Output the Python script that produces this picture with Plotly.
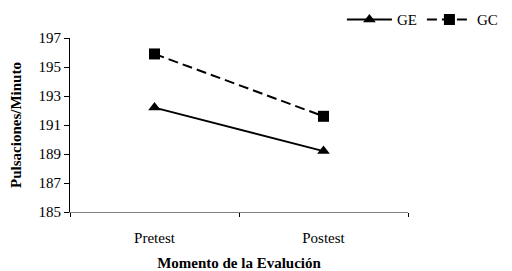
import plotly.graph_objects as go

categories = ["Pretest", "Postest"]
ge_values = [192.2, 189.2]
gc_values = [195.9, 191.6]
y_ticks = [185, 187, 189, 191, 193, 195, 197]

fig = go.Figure()
fig.add_trace(go.Scatter(x=categories, y=ge_values, name="GE", mode="lines+markers",
                         line=dict(color="black", width=2),
                         marker=dict(symbol="triangle-up", size=11, color="black")))
fig.add_trace(go.Scatter(x=categories, y=gc_values, name="GC", mode="lines+markers",
                         line=dict(color="black", width=2, dash="10px,5px"),
                         marker=dict(symbol="square", size=11, color="black")))

fig.update_layout(
    width=504, height=263,
    margin=dict(l=62, r=104, t=30, b=59, autoexpand=False),
    paper_bgcolor="white", plot_bgcolor="white",
    font=dict(family="Liberation Serif", size=15, color="black"),
    showlegend=True,
    legend=dict(orientation="h", xref="container", yref="container",
                x=0.982, xanchor="right", y=0.955, yanchor="middle",
                font=dict(size=15), bgcolor="rgba(0,0,0,0)",
                itemwidth=45, tracegroupgap=0),
    xaxis=dict(type="category", range=[-0.5, 1.5], showline=True, linecolor="#808080",
               linewidth=1, ticks="outside", tickson="boundaries", ticklen=4,
               tickcolor="black", showgrid=False, zeroline=False, automargin=False,
               ticklabelstandoff=12,
               title=dict(text="<b>Momento de la Evalución</b>", font=dict(size=15), standoff=15)),
    yaxis=dict(range=[185, 197], tickvals=y_ticks, showline=True, linecolor="black",
               linewidth=1, ticks="outside", ticklen=5, tickcolor="black",
               showgrid=False, zeroline=False, automargin=False,
               title=dict(text="<b>Pulsaciones/Minuto</b>", font=dict(size=15), standoff=25)),
)

fig.write_html("out.html")
